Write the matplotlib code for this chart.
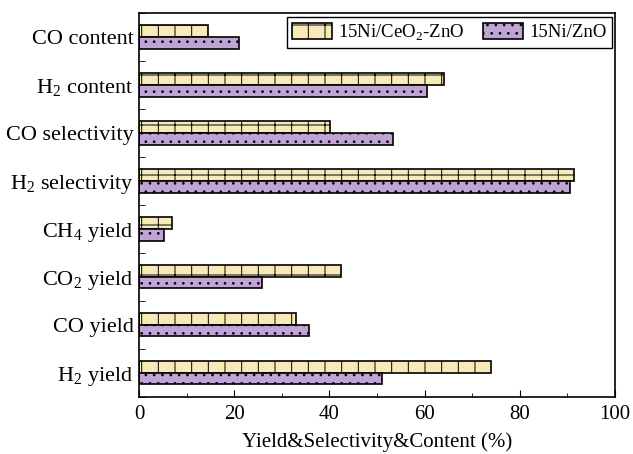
import matplotlib
matplotlib.use("Agg")
import matplotlib.pyplot as plt
import numpy as np
from matplotlib.ticker import MultipleLocator, FixedLocator

plt.rcParams['font.family'] = ['Liberation Serif', 'DejaVu Serif']
plt.rcParams['mathtext.fontset'] = 'custom'
plt.rcParams['mathtext.rm'] = 'Liberation Serif'
plt.rcParams['hatch.linewidth'] = 0.7

categories = ['H$_2$ yield', 'CO yield', 'CO$_2$ yield', 'CH$_4$ yield',
              'H$_2$ selectivity', 'CO selectivity', 'H$_2$ content', 'CO content']
ni_ceo2_zno = [74.0, 33.0, 42.5, 7.0, 91.3, 40.2, 64.0, 14.5]
ni_zno = [51.0, 35.7, 25.8, 5.3, 90.5, 53.3, 60.5, 21.0]
series_labels = ['15Ni/CeO$_2$-ZnO', '15Ni/ZnO']

fig = plt.figure(figsize=(6.33, 4.54), dpi=100)
ax = fig.add_axes([0.2196, 0.1256, 0.752, 0.8458])

y = np.arange(len(categories))
h = 0.24
ax.barh(y + h/2, ni_ceo2_zno, height=h, color='#F7E9B8', edgecolor='black',
        linewidth=1.2, hatch='+', label=series_labels[0])
ax.barh(y - h/2, ni_zno, height=h, color='#C0A4D4', edgecolor='black',
        linewidth=1.2, hatch='..', label=series_labels[1])

ax.set_xlim(0, 100)
ax.set_ylim(-0.5, 7.5)
ax.set_yticks(y)
ax.set_yticklabels(categories, fontsize=16)
ax.yaxis.set_minor_locator(FixedLocator(np.arange(-0.5, 7.6, 1)))
ax.xaxis.set_major_locator(MultipleLocator(20))
ax.xaxis.set_minor_locator(MultipleLocator(10))
ax.tick_params(axis='both', which='both', direction='in')
ax.tick_params(axis='x', labelsize=15, pad=6)
ax.tick_params(axis='y', which='major', length=0, pad=4)
ax.tick_params(axis='y', which='minor', length=4)
ax.tick_params(axis='x', which='major', length=5)
ax.tick_params(axis='x', which='minor', length=3)
for s in ax.spines.values():
    s.set_linewidth(1.2)
ax.set_xlabel('Yield&Selectivity&Content (%)', fontsize=15, labelpad=6)

leg = ax.legend(loc='upper right', ncol=2, fontsize=13.5, frameon=True, fancybox=False,
                edgecolor='black', framealpha=1, handlelength=2.1, handleheight=1.0,
                columnspacing=1.0, handletextpad=0.35, borderpad=0.3,
                borderaxespad=0, bbox_to_anchor=(0.994, 0.99))
leg.get_frame().set_linewidth(1.0)

fig.savefig('out.png', dpi=100)
